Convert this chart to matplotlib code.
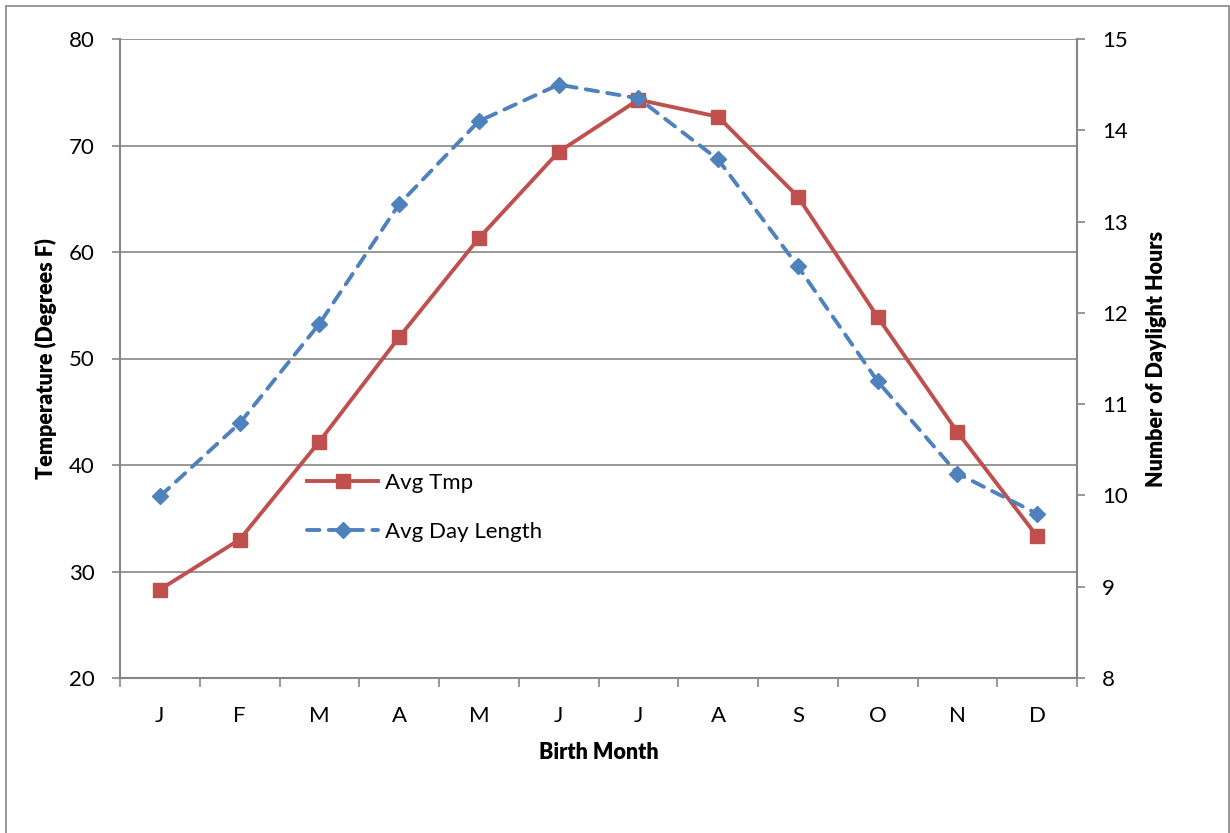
import matplotlib.pyplot as plt
from matplotlib.patches import Rectangle

plt.rcParams['font.family'] = ['Lato', 'DejaVu Sans']

months = ['J', 'F', 'M', 'A', 'M', 'J', 'J', 'A', 'S', 'O', 'N', 'D']
avg_tmp = [28.3, 33.0, 42.2, 52.0, 61.3, 69.4, 74.3, 72.7, 65.2, 53.9, 43.1, 33.3]
day_length = [9.99, 10.79, 11.88, 13.19, 14.10, 14.50, 14.35, 13.68, 12.51, 11.25, 10.24, 9.80]

red = '#C0504D'
blue = '#4F81BD'
gray = '#868686'

W, H = 1230, 833
fig = plt.figure(figsize=(W / 100, H / 100), dpi=100)
ax = fig.add_axes([120 / W, 1 - 678 / H, (1077 - 120) / W, (678 - 39) / H])
ax2 = ax.twinx()

x = list(range(len(months)))
ax.plot(x, avg_tmp, color=red, lw=2.8, marker='s', ms=10.5,
        mec=red, mfc=red, label='Avg Tmp', zorder=3)
ax2.plot(x, day_length, color=blue, lw=2.8, ls=(0, (3.2, 2.4)),
         dash_capstyle='round', marker='D', ms=8.5, mec=blue, mfc=blue,
         label='Avg Day Length', zorder=3)

ax.set_xlim(-0.5, 11.5)
ax.set_ylim(20, 80)
ax.set_yticks(range(20, 81, 10))
ax2.set_ylim(8, 15)
ax2.set_yticks(range(8, 16))

# category ticks sit between months, labels under each month
ax.set_xticks(x)
ax.set_xticklabels(months)
ax.set_xticks([i - 0.5 for i in range(13)], minor=True)
ax.tick_params(axis='x', which='major', length=0, pad=20, labelsize=16)
ax.tick_params(axis='x', which='minor', length=6.5, width=1.2, color=gray)
ax.tick_params(axis='y', length=6, width=1.2, color=gray, pad=12, labelsize=16)
ax2.tick_params(axis='y', length=6, width=1.2, color=gray, pad=12, labelsize=16)

ax.grid(axis='y', color=gray, lw=1.2)
ax.set_axisbelow(True)
for a in (ax, ax2):
    a.spines['top'].set_visible(False)
    for s in ('left', 'right', 'bottom'):
        a.spines[s].set_color(gray)
        a.spines[s].set_linewidth(1.5)
ax.spines['right'].set_visible(False)
ax2.spines['left'].set_visible(False)
ax2.spines['bottom'].set_visible(False)

lab = dict(fontsize=15.5, fontweight='heavy')
ax.set_xlabel('Birth Month', labelpad=12, **lab)
ax.set_ylabel('Temperature (Degrees F)', labelpad=9, **lab)
ax2.set_ylabel('Number of Daylight Hours', labelpad=13, **lab)

handles = [ax.get_lines()[0], ax2.get_lines()[0]]
fig.legend(handles, [h.get_label() for h in handles], loc='upper left',
           bbox_to_anchor=(307 / W, 1 - 473 / H), frameon=False, fontsize=16,
           handlelength=3.2, handletextpad=0.3, labelspacing=1.3, borderpad=0,
           borderaxespad=0)

fig.patches.append(Rectangle((5.5 / W, -0.02), (1229 - 5.5) / W, 1.02 - 5.5 / H,
                             transform=fig.transFigure, fill=False,
                             edgecolor=gray, lw=1.2))

fig.savefig('out.png', dpi=100)
